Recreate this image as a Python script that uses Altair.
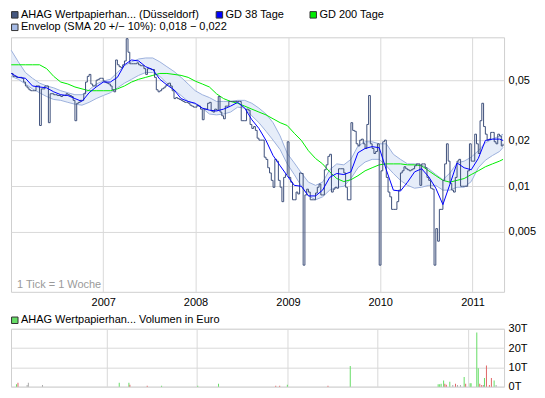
import altair as alt
import pandas as pd

FONT = "Liberation Sans"
W, H = 494, 255
VH = 58

# ---------------- data ----------------
# weekly closes (EUR), "1 Tick = 1 Woche"
price = [
    0.0554, 0.0530, 0.0530, 0.0522, 0.0522, 0.0522, 0.0515, 0.0486, 0.0458, 0.0445,
    0.0432, 0.0426, 0.0426, 0.0426, 0.0458, 0.0458, 0.0251, 0.0438, 0.0438, 0.0458,
    0.0458, 0.0262, 0.0407, 0.0407, 0.0401, 0.0401, 0.0396, 0.0396, 0.0390, 0.0396,
    0.0396, 0.0407, 0.0401, 0.0396, 0.0390, 0.0368, 0.0270, 0.0352, 0.0357, 0.0368,
    0.0368, 0.0407, 0.0486, 0.0530, 0.0546, 0.0472, 0.0458, 0.0458, 0.0500, 0.0507,
    0.0515, 0.0515, 0.0493, 0.0486, 0.0478, 0.0472, 0.0458, 0.0432, 0.0419, 0.0680,
    0.0632, 0.0614, 0.0605, 0.0632, 0.0670, 0.0940, 0.0765, 0.0642, 0.0642, 0.0642,
    0.0642, 0.0651, 0.0632, 0.0623, 0.0623, 0.0596, 0.0546, 0.0596, 0.0596, 0.0588,
    0.0588, 0.0522, 0.0432, 0.0419, 0.0426, 0.0438, 0.0445, 0.0458, 0.0472, 0.0478,
    0.0458, 0.0426, 0.0378, 0.0384, 0.0378, 0.0373, 0.0368, 0.0362, 0.0357, 0.0357,
    0.0352, 0.0342, 0.0337, 0.0332, 0.0332, 0.0342, 0.0337, 0.0322, 0.0274, 0.0322,
    0.0322, 0.0352, 0.0357, 0.0313, 0.0308, 0.0322, 0.0317, 0.0390, 0.0308, 0.0291,
    0.0278, 0.0337, 0.0337, 0.0362, 0.0362, 0.0362, 0.0362, 0.0362, 0.0362, 0.0362,
    0.0270, 0.0270, 0.0270, 0.0322, 0.0317, 0.0255, 0.0240, 0.0247, 0.0233, 0.0207,
    0.0201, 0.0201, 0.0201, 0.0155, 0.0150, 0.0132, 0.0122, 0.0109, 0.0098, 0.0150,
    0.0146, 0.0109, 0.00982, 0.00788, 0.0114, 0.0119, 0.0196, 0.0114, 0.0106, 0.00811,
    0.00811, 0.00912, 0.00886, 0.0122, 0.0121, 0.0030, 0.00873, 0.00953, 0.00912, 0.00811,
    0.00811, 0.00811, 0.00899, 0.00982, 0.0103, 0.00873, 0.00873, 0.0128, 0.0138, 0.0157,
    0.0162, 0.00912, 0.00953, 0.00982, 0.00967, 0.0130, 0.0130, 0.0130, 0.0122, 0.00982,
    0.00811, 0.00811, 0.0262, 0.0233, 0.0230, 0.0190, 0.0184, 0.0201, 0.0204, 0.0190,
    0.0177, 0.0255, 0.0396, 0.0190, 0.0177, 0.0164, 0.0169, 0.0190, 0.0030, 0.0126,
    0.0196, 0.0201, 0.0114, 0.00912, 0.00848, 0.00701, 0.00701, 0.00701, 0.00788, 0.00939,
    0.0122, 0.0126, 0.0134, 0.0130, 0.0128, 0.0126, 0.0128, 0.0130, 0.0136, 0.0140,
    0.0140, 0.0101, 0.0140, 0.0140, 0.0132, 0.0114, 0.0109, 0.00967, 0.00953, 0.0030,
    0.00523, 0.00432, 0.00701, 0.00701, 0.0109, 0.0140, 0.0190, 0.0146, 0.0104, 0.00939,
    0.00912, 0.0114, 0.0146, 0.0150, 0.00996, 0.00996, 0.00996, 0.00996, 0.0126, 0.0190,
    0.0146, 0.0146, 0.0220, 0.0190, 0.0164, 0.0270, 0.0352, 0.0247, 0.0220, 0.0201,
    0.0204, 0.0226, 0.0226, 0.0196, 0.0190, 0.0220, 0.0214, 0.0184, 0.0190,
]

# moving averages / envelope, one reading every 4 weeks (+ last week)
gd38 = [
    0.0554, 0.0522, 0.0515, 0.0458, 0.0451, 0.0445, 0.0419, 0.0401, 0.0396, 0.0378,
    0.0362, 0.0413, 0.0451, 0.0486, 0.0486, 0.0522, 0.0632, 0.0680, 0.0670, 0.0614,
    0.0588, 0.0507, 0.0465, 0.0432, 0.0378, 0.0362, 0.0352, 0.0327, 0.0317, 0.0313,
    0.0322, 0.0337, 0.0357, 0.0327, 0.0274, 0.0240, 0.0200, 0.0159, 0.0136, 0.0117,
    0.0101, 0.00996, 0.0086, 0.0086, 0.00939, 0.0114, 0.0121, 0.0119, 0.0124, 0.0166,
    0.0177, 0.0182, 0.0179, 0.0128, 0.00939, 0.00926, 0.0106, 0.0124, 0.0130, 0.0115,
    0.00967, 0.00754, 0.0103, 0.0142, 0.0132, 0.0128, 0.0152, 0.0200, 0.0204, 0.0204,
    0.0200,
]

gd200 = [
    0.0632, 0.0632, 0.0632, 0.0632, 0.0632, 0.0596, 0.0530, 0.0486, 0.0472, 0.0451,
    0.0438, 0.0426, 0.0426, 0.0426, 0.0426, 0.0438, 0.0458, 0.0486, 0.0507, 0.0522,
    0.0538, 0.0554, 0.0554, 0.0546, 0.0538, 0.0522, 0.0493, 0.0472, 0.0451, 0.0407,
    0.0378, 0.0362, 0.0352, 0.0337, 0.0322, 0.0308, 0.0295, 0.0278, 0.0262, 0.0251,
    0.0223, 0.0200, 0.0171, 0.0152, 0.0140, 0.0124, 0.0112, 0.0107, 0.0110, 0.0117,
    0.0126, 0.0132, 0.0138, 0.0140, 0.0140, 0.0140, 0.0138, 0.0138, 0.0136, 0.0126,
    0.0117, 0.0109, 0.0106, 0.0109, 0.0112, 0.0119, 0.0126, 0.0134, 0.0140, 0.0146,
    0.0150,
]

env_hi = [
    0.0788, 0.0661, 0.0562, 0.0515, 0.0478, 0.0458, 0.0445, 0.0426, 0.0413, 0.0401,
    0.0401, 0.0432, 0.0472, 0.0493, 0.0507, 0.0562, 0.0623, 0.0661, 0.0690, 0.0701,
    0.0701, 0.0661, 0.0614, 0.0571, 0.0522, 0.0472, 0.0426, 0.0401, 0.0384, 0.0362,
    0.0362, 0.0362, 0.0368, 0.0368, 0.0352, 0.0327, 0.0299, 0.0262, 0.0214, 0.0164,
    0.0142, 0.0122, 0.0106, 0.0101, 0.0106, 0.0128, 0.0140, 0.0138, 0.0150, 0.0184,
    0.0196, 0.0196, 0.0190, 0.0190, 0.0162, 0.0150, 0.0140, 0.0140, 0.0138, 0.0130,
    0.0119, 0.0110, 0.0122, 0.0142, 0.0146, 0.0155, 0.0171, 0.0193, 0.0204, 0.0214,
    0.0220,
]

env_lo = [
    0.0530, 0.0507, 0.0472, 0.0438, 0.0413, 0.0390, 0.0373, 0.0368, 0.0357, 0.0347,
    0.0342, 0.0357, 0.0378, 0.0396, 0.0413, 0.0445, 0.0478, 0.0507, 0.0538, 0.0562,
    0.0562, 0.0530, 0.0478, 0.0432, 0.0396, 0.0362, 0.0347, 0.0327, 0.0299, 0.0295,
    0.0299, 0.0308, 0.0332, 0.0327, 0.0291, 0.0262, 0.0230, 0.0201, 0.0174, 0.0140,
    0.0119, 0.00996, 0.0086, 0.00811, 0.00848, 0.00939, 0.00982, 0.00996, 0.0112, 0.0132,
    0.0144, 0.0150, 0.0150, 0.0136, 0.0121, 0.0109, 0.0101, 0.00967, 0.00982, 0.0101,
    0.0101, 0.00939, 0.00939, 0.00982, 0.00982, 0.0107, 0.0132, 0.0148, 0.0159, 0.0169,
    0.0180,
]

# volume in thousand EUR ("T")
vol_dates = [
    "2006-01-03", "2006-01-09", "2006-02-15", "2006-02-20", "2006-04-18",
    "2007-02-22", "2007-04-02", "2007-04-06", "2007-06-15", "2007-08-12",
    "2008-01-05", "2008-03-29", "2008-11-15", "2008-12-01", "2009-01-01",
    "2009-06-14", "2009-09-12", "2010-09-02", "2010-09-08", "2010-09-14",
    "2010-09-24", "2010-09-29", "2010-10-05", "2010-10-19", "2010-10-31",
    "2010-11-11", "2010-11-19", "2010-12-01", "2010-12-16", "2010-12-22",
    "2011-01-09", "2011-01-13", "2011-02-05", "2011-02-11", "2011-02-17",
    "2011-02-25", "2011-03-04", "2011-03-08", "2011-03-16", "2011-03-28",
    "2011-04-05", "2011-04-16", "2011-04-24",
]
vol_values = [
    1.2, 2.0, 0.8, 2.0, 0.8,
    2.0, 2.0, 1.0, 0.5, 0.5,
    0.5, 1.5, 0.5, 0.5, 1.0,
    0.5, 10.7, 1.2, 1.2, 1.5,
    3.2, 1.5, 1.0, 2.5, 0.8,
    1.5, 0.8, 0.8, 5.0, 1.5,
    1.8, 1.8, 28.0, 9.5, 1.5,
    0.8, 0.8, 4.5, 11.0, 0.8,
    4.5, 3.2, 0.8,
]
vol_dir = [
    "up", "down", "flat", "flat", "flat",
    "up", "up", "down", "down", "up",
    "up", "up", "down", "down", "up",
    "down", "up", "up", "up", "up",
    "up", "down", "down", "up", "flat",
    "down", "flat", "flat", "up", "down",
    "up", "up", "up", "up", "down",
    "down", "flat", "up", "down", "down",
    "down", "up", "flat",
]

y_ticks = [0.005, 0.01, 0.02, 0.05]
vol_ticks = [0, 10, 20, 30]
years = [2007, 2008, 2009, 2010, 2011]

legend_main = [
    ("AHAG Wertpapierhan... (Düsseldorf)", "#45577f", 0, -22.5),
    ("GD 38 Tage", "#0000ff", 205, -22.5),
    ("GD 200 Tage", "#00ee00", 299, -22.5),
    ("Envelop (SMA 20 +/\u2212 10%): 0,018 \u2212 0,022", "#a6bbe6", 0, -10),
]
legend_vol = ("AHAG Wertpapierhan... Volumen in Euro", "#66dd66", 0, -8.5)
tick_note = "1 Tick = 1 Woche"

# ---------------- frames ----------------
week_dates = pd.date_range("2006-01-02", periods=len(price), freq="7D")
df_main = pd.DataFrame({"date": week_dates, "price": price})
ma_dates = list(week_dates[::4]) + [week_dates[-1]]
df_ma = pd.DataFrame({"date": ma_dates, "gd38": gd38, "gd200": gd200,
                      "lo": env_lo, "hi": env_hi})
df_vol = pd.DataFrame({"date": pd.to_datetime(vol_dates), "vol": vol_values, "dir": vol_dir})

GRID = "#d9d9d9"
x_scale = alt.Scale(domain=[alt.DateTime(year=2006, month=1, date=1),
                            alt.DateTime(year=2011, month=5, date=6)])
year_vals = [alt.DateTime(year=y, month=1, date=1) for y in years]
x_axis = alt.Axis(values=year_vals, format="%Y", title=None, ticks=False, domain=False,
                  grid=True, gridColor=GRID, labelPadding=5, labelFlush=False)
x_axis_vol = alt.Axis(values=year_vals, title=None, ticks=False, domain=False, labels=False,
                      grid=True, gridColor=GRID)
y_scale = alt.Scale(type="log", domain=[0.002, 0.096], nice=False)
y_axis = alt.Axis(orient="right", values=y_ticks, title=None, ticks=False, domain=False,
                  grid=True, gridColor=GRID, labelPadding=4,
                  labelExpr="replace(format(datum.value, '.3~f'), '.', ',')")

X = alt.X("date:T", scale=x_scale, axis=x_axis)


def Y(field):
    return alt.Y(f"{field}:Q", scale=y_scale, axis=y_axis)


base_ma = alt.Chart(df_ma)
band = base_ma.mark_area(color="#e6edf9", opacity=1).encode(x=X, y=Y("lo"), y2="hi:Q")
band_lo = base_ma.mark_line(color="#9db1dd", strokeWidth=1).encode(x=X, y=Y("lo"))
band_hi = base_ma.mark_line(color="#9db1dd", strokeWidth=1).encode(x=X, y=Y("hi"))
line200 = base_ma.mark_line(color="#00ee00", strokeWidth=1).encode(x=X, y=Y("gd200"))
line38 = base_ma.mark_line(color="#0000ff", strokeWidth=1).encode(x=X, y=Y("gd38"))
pline = alt.Chart(df_main).mark_line(color="#3d4f7a", strokeWidth=1,
                                     interpolate="step-after").encode(x=X, y=Y("price"))


def legend_item(label, fill, px, py):
    d = pd.DataFrame({"t": [label]})
    sq = alt.Chart(d).mark_square(size=42, fill=fill, stroke="#333333", strokeWidth=1,
                                  opacity=1, filled=True).encode(
        x=alt.value(px + 3.8), y=alt.value(py))
    tx = alt.Chart(d).mark_text(align="left", baseline="middle", font=FONT, fontSize=11,
                                color="#000000").encode(
        x=alt.value(px + 10), y=alt.value(py), text="t:N")
    return [sq, tx]


leg_layers = []
for lab, col, px, py in legend_main:
    leg_layers += legend_item(lab, col, px, py)

note = alt.Chart(pd.DataFrame({"t": [tick_note]})).mark_text(
    align="left", baseline="middle", font=FONT, fontSize=11, color="#9a9a9a").encode(
    x=alt.value(6), y=alt.value(H - 7), text="t:N")

top = alt.layer(band, band_lo, band_hi, line200, pline, line38, note, *leg_layers).properties(
    width=W, height=H)

vbars = alt.Chart(df_vol).mark_bar(width=1).encode(
    x=alt.X("date:T", scale=x_scale, axis=x_axis_vol),
    y=alt.Y("vol:Q", scale=alt.Scale(domain=[0, 30], nice=False),
            axis=alt.Axis(orient="right", values=vol_ticks, title=None, ticks=False,
                          domain=False, grid=True, gridColor=GRID, labelPadding=4,
                          labelExpr="datum.value + 'T'")),
    color=alt.Color("dir:N", scale=alt.Scale(domain=["up", "down", "flat"],
                                             range=["#66dd66", "#e06666", "#aaaaaa"]),
                    legend=None),
)
bottom = alt.layer(vbars, *legend_item(*legend_vol)).properties(width=W, height=VH)

chart = alt.vconcat(top, bottom, spacing=5).properties(padding=0).configure_axis(
    labelFont=FONT, labelFontSize=11, labelColor="#000000"
).configure_view(stroke="#cfcfcf", strokeWidth=1)

chart.save("out.html", embed_options={"renderer": "svg", "actions": False})
